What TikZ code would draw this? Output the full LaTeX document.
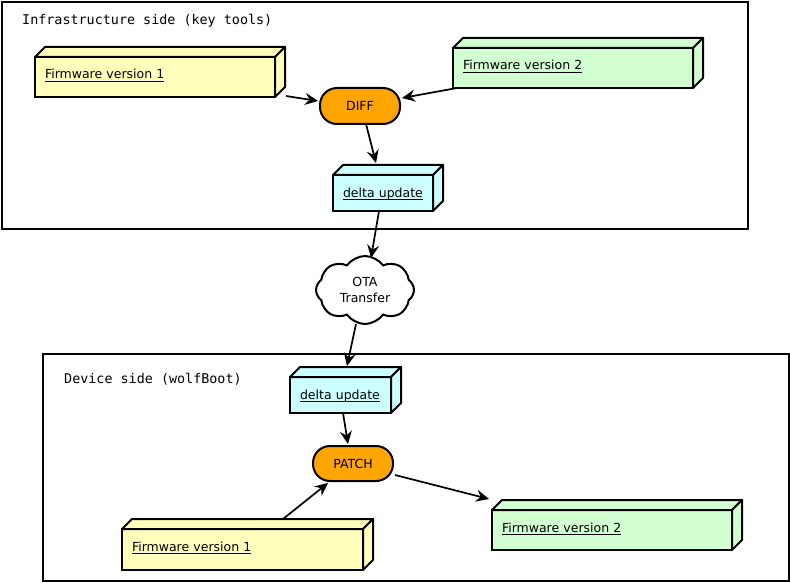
\documentclass[tikz,border=0pt]{standalone}
\usepackage{fontspec}
\setmainfont{DejaVu Sans}
\setmonofont{DejaVu Sans Mono}
\usetikzlibrary{arrows.meta,shapes.symbols,calc}
\definecolor{fwyellow}{RGB}{255,255,187}
\definecolor{fwgreen}{RGB}{209,255,209}
\definecolor{fwcyan}{RGB}{204,255,255}
\definecolor{pillorange}{RGB}{255,165,0}
\newsavebox\ulbox
\newcommand{\myul}[1]{\sbox\ulbox{#1}\rlap{\rule[-3pt]{\wd\ulbox}{0.9pt}}\usebox\ulbox}
\newcommand{\cubefaces}[2]{%
  \filldraw[line width=2pt, line join=round, fill=#2] (#1.north west) -- ++(10,-10) -- ([shift={(10,-10)}]#1.north east) -- (#1.north east) -- cycle;
  \filldraw[line width=2pt, line join=round, fill=#2] (#1.north east) -- ++(10,-10) -- ([shift={(10,-10)}]#1.south east) -- (#1.south east) -- cycle;
}
\tikzset{
  frame/.style={draw, line width=2pt, rectangle, anchor=north west, inner sep=0pt, outer sep=0pt},
  lbl/.style={font=\fontsize{12.5}{16}\selectfont},
  cube/.style={draw, line width=2pt, rectangle, anchor=north west, inner xsep=10pt, inner ysep=0pt, outer sep=0pt, align=left, text height=22pt, lbl},
  pill/.style={draw, line width=2pt, fill=pillorange, rounded corners=17pt, minimum width=80pt, minimum height=36pt, inner sep=0pt, outer sep=0pt, lbl},
  arr/.style={line width=1.7pt, -{Stealth[length=13pt,width=12pt,inset=4.5pt]}},
  title/.style={anchor=base west, inner sep=0pt, font=\ttfamily\fontsize{13.4}{16}\selectfont},
}
\begin{document}
\begin{tikzpicture}[x=1pt,y=-1pt]
\useasboundingbox (0,0) rectangle (790,583);
% frames
\node[frame, minimum width=746pt, minimum height=227pt] (infra) at (2,2) {};
\node[frame, minimum width=746pt, minimum height=227pt] (device) at (43,354) {};
\node[title] (infratitle) at (22,25) {Infrastructure side (key tools)};
\node[title] (devtitle) at (64,383) {Device side (wolfBoot)};
% infrastructure boxes
\node[cube, fill=fwyellow, text width=220pt, text depth=18pt] (fw1a) at (35,57) {\myul{Firmware version 1}};
\cubefaces{fw1a}{fwyellow}
\node[cube, fill=fwgreen, text width=220pt, text depth=18pt] (fw2a) at (453,48) {\myul{Firmware version 2}};
\cubefaces{fw2a}{fwgreen}
\node[pill] (diff) at (360,106) {DIFF};
\node[cube, fill=fwcyan, text width=80pt, text depth=14pt] (deltaA) at (333,175) {\myul{delta update}};
\cubefaces{deltaA}{fwcyan}
% cloud
\node[cloud, draw, line width=2pt, fill=white, cloud puffs=8, cloud puff arc=110, aspect=1.45, minimum width=98pt, minimum height=68pt, inner sep=0pt, align=center, lbl] (ota) at (365,290) {OTA\\Transfer};
% device boxes
\node[cube, fill=fwcyan, text width=81pt, text depth=14pt] (deltaB) at (290,377) {\myul{delta update}};
\cubefaces{deltaB}{fwcyan}
\node[pill, minimum height=35pt] (patch) at (353,463.5) {PATCH};
\node[cube, fill=fwyellow, text width=221pt, text depth=19pt] (fw1b) at (122,529) {\myul{Firmware version 1}};
\cubefaces{fw1b}{fwyellow}
\node[cube, fill=fwgreen, text width=220pt, text depth=18pt] (fw2b) at (492,510) {\myul{Firmware version 2}};
\cubefaces{fw2b}{fwgreen}
% connectors
\draw[arr] ([shift={(11,-1)}]fw1a.south east) -- ([shift={(-2,-5)}]diff.west);
\draw[arr] ([shift={(4,0)}]fw2a.south west) -- ([shift={(2,-8)}]diff.east);
\draw[arr] ([shift={(6,0)}]diff.south) -- ([shift={(-7,-12)}]deltaA.north);
\draw[arr] ([shift={(-4,0)}]deltaA.south) -- ([shift={(6,-32)}]ota.center);
\draw[arr] ([shift={(-9,34)}]ota.center) -- ([shift={(6.5,-11)}]deltaB.north);
\draw[arr] ([shift={(2.5,0)}]deltaB.south) -- ([shift={(-5,-2)}]patch.north);
\draw[arr] ([shift={(40.5,-10)}]fw1b.north) -- ([shift={(-25,2)}]patch.south);
\draw[arr] ([shift={(2,11.5)}]patch.east) -- ([shift={(-3,-11)}]fw2b.north west);
\end{tikzpicture}
\end{document}
